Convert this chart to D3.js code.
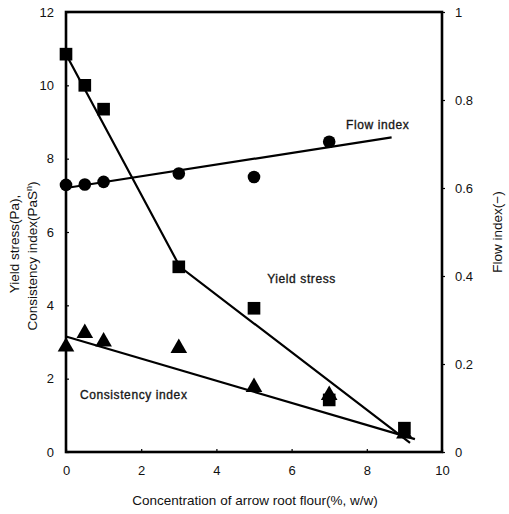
<!DOCTYPE html>
<html>
<head>
<meta charset="utf-8">
<script src="https://cdn.jsdelivr.net/npm/d3@7"></script>
<style>
  body { margin: 0; background: #fff; }
  svg text { font-family: "Liberation Sans", Arial, sans-serif; fill: #111; }
</style>
</head>
<body>
<div id="chart"></div>
<script>
// measured points
const conc = [0, 0.5, 1, 3, 5, 7, 9];
const yieldStress = [10.85, 10.0, 9.35, 5.05, 3.92, 1.42, 0.65];
const consistency = [2.87, 3.24, 3.01, 2.83, 1.77, 1.55, 0.5];
const flowConc = [0, 0.5, 1, 3, 5, 7];
const flowIndex = [0.607, 0.608, 0.614, 0.633, 0.625, 0.705];

// fitted lines
const yieldFitX = [0, 3.03, 9.15];
const yieldFitY = [10.85, 5.05, 0.25];
const consFitX = [0, 9.28];
const consFitY = [3.15, 0.35];
const flowFitX = [0, 8.66];
const flowFitY = [0.6, 0.715];

const xTicks = [0, 2, 4, 6, 8, 10];
const leftTicks = [0, 2, 4, 6, 8, 10, 12];
const rightTicks = [0, 0.2, 0.4, 0.6, 0.8, 1];

const width = 509;
const height = 514;
const margin = { top: 12, right: 67, bottom: 62, left: 66 };

const svg = d3.select('#chart')
  .append('svg')
  .attr('width', width)
  .attr('height', height);

const x = d3.scaleLinear().domain([0, 10]).range([margin.left, width - margin.right]);
const yL = d3.scaleLinear().domain([0, 12]).range([height - margin.bottom, margin.top]);
const yR = d3.scaleLinear().domain([0, 1]).range([height - margin.bottom, margin.top]);

// axes (labels only, frame drawn separately)
const xAxis = svg.append('g')
  .attr('transform', `translate(0,${height - margin.bottom})`)
  .call(d3.axisBottom(x).tickValues(xTicks).tickFormat(d3.format('d')).tickSizeInner(-3).tickSizeOuter(0).tickPadding(14));

const lAxis = svg.append('g')
  .attr('transform', `translate(${margin.left},0)`)
  .call(d3.axisLeft(yL).tickValues(leftTicks).tickFormat(d3.format('d')).tickSizeInner(-3).tickSizeOuter(0).tickPadding(12));

const rAxis = svg.append('g')
  .attr('transform', `translate(${width - margin.right},0)`)
  .call(d3.axisRight(yR).tickValues(rightTicks).tickFormat(d => d === 0 || d === 1 ? d3.format('d')(d) : d3.format('.1f')(d)).tickSizeInner(3).tickSizeOuter(0).tickPadding(10));

[xAxis, lAxis, rAxis].forEach(g => {
  g.select('.domain').remove();
  g.selectAll('text').style('font-size', '13px').attr('fill', '#222');
  g.selectAll('line').attr('stroke', '#000').attr('stroke-width', 1.2);
});

// frame
svg.append('rect')
  .attr('x', x(0))
  .attr('y', yL(12))
  .attr('width', x(10) - x(0))
  .attr('height', yL(0) - yL(12))
  .attr('fill', 'none')
  .attr('stroke', '#000')
  .attr('stroke-width', 2.6);

// fitted lines
const lineL = d3.line().x(d => x(d[0])).y(d => yL(d[1]));
const lineR = d3.line().x(d => x(d[0])).y(d => yR(d[1]));

svg.append('path')
  .attr('d', lineL(d3.zip(yieldFitX, yieldFitY)))
  .attr('fill', 'none').attr('stroke', '#000').attr('stroke-width', 2.2);
svg.append('path')
  .attr('d', lineL(d3.zip(consFitX, consFitY)))
  .attr('fill', 'none').attr('stroke', '#000').attr('stroke-width', 2.2);
svg.append('path')
  .attr('d', lineR(d3.zip(flowFitX, flowFitY)))
  .attr('fill', 'none').attr('stroke', '#000').attr('stroke-width', 2.2);

// markers
svg.append('g')
  .selectAll('path')
  .data(d3.zip(conc, yieldStress))
  .join('path')
  .attr('transform', d => `translate(${x(d[0])},${yL(d[1])})`)
  .attr('d', d3.symbol(d3.symbolSquare, 160))
  .attr('fill', '#000');

svg.append('g')
  .selectAll('path')
  .data(d3.zip(conc, consistency))
  .join('path')
  .attr('transform', d => `translate(${x(d[0])},${yL(d[1])})`)
  .attr('d', d3.symbol(d3.symbolTriangle, 120))
  .attr('fill', '#000');

svg.append('g')
  .selectAll('circle')
  .data(d3.zip(flowConc, flowIndex))
  .join('circle')
  .attr('cx', d => x(d[0]))
  .attr('cy', d => yR(d[1]))
  .attr('r', 6.3)
  .attr('fill', '#000');

// in-plot labels
const lbl = (t, lx, ly) => svg.append('text')
  .attr('x', x(lx)).attr('y', yL(ly))
  .style('font-size', '12px')
  .style('letter-spacing', '0.6px')
  .attr('fill', '#222')
  .attr('stroke', '#222')
  .attr('stroke-width', 0.35)
  .text(t);

lbl('Flow  index', 7.45, 8.8);
lbl('Yield stress', 5.35, 4.6);
lbl('Consistency index', 0.37, 1.45);

// axis titles
svg.append('text')
  .attr('x', (x(0) + x(10)) / 2 + 1)
  .attr('y', 505)
  .attr('text-anchor', 'middle')
  .style('font-size', '13.5px')
  .text('Concentration of arrow root flour(%, w/w)');

svg.append('text')
  .attr('transform', 'translate(19,244) rotate(-90)')
  .attr('text-anchor', 'middle')
  .style('font-size', '13.5px')
  .text('Yield stress(Pa),');

const yTitle2 = svg.append('text')
  .attr('transform', 'translate(37,256) rotate(-90)')
  .attr('text-anchor', 'middle')
  .style('font-size', '13.5px');
yTitle2.append('tspan').text('Consistency index(PaS');
yTitle2.append('tspan').attr('dy', -5).style('font-size', '9px').text('n');
yTitle2.append('tspan').attr('dy', 5).text(')');

svg.append('text')
  .attr('transform', `translate(502,${yR(0.5)}) rotate(-90)`)
  .attr('text-anchor', 'middle')
  .style('font-size', '13.5px')
  .text('Flow index(\u2212)');
</script>
</body>
</html>
